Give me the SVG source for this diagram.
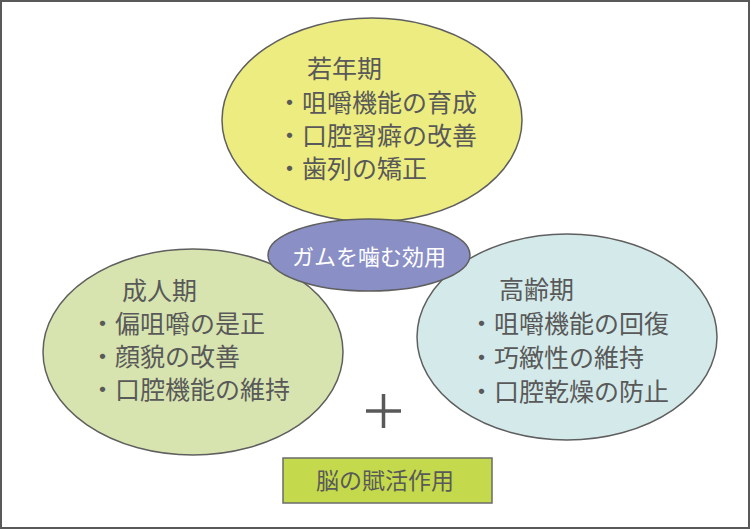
<svg xmlns="http://www.w3.org/2000/svg" width="750" height="529" viewBox="0 0 750 529">
<style>
.e{stroke:#5f5f5f;stroke-width:1.5}
.t{font-family:"Noto Sans CJK JP","Noto Sans",sans-serif;font-size:25px;fill:#595959}
.w{font-family:"Noto Sans CJK JP","Noto Sans",sans-serif;font-size:22px;fill:#ffffff}
</style>
<rect x="1" y="1" width="748" height="527" fill="#ffffff" stroke="#595959" stroke-width="2"/>
<g id="youth">
<ellipse class="e" cx="372" cy="120" rx="150" ry="102" fill="#ecec80"/>
<text class="t" x="307" y="78">若年期</text>
<text class="t" x="277" y="112">・咀嚼機能の育成</text>
<text class="t" x="277" y="145">・口腔習癖の改善</text>
<text class="t" x="277" y="178">・歯列の矯正</text>
</g>
<g id="adult">
<ellipse class="e" cx="193" cy="352" rx="150" ry="103" fill="#d7e4b0"/>
<text class="t" x="122" y="300">成人期</text>
<text class="t" x="90" y="333">・偏咀嚼の是正</text>
<text class="t" x="90" y="366">・顔貌の改善</text>
<text class="t" x="90" y="399">・口腔機能の維持</text>
</g>
<g id="elderly">
<ellipse class="e" cx="567" cy="337" rx="150" ry="103" fill="#d4eaea"/>
<text class="t" x="499" y="299">高齢期</text>
<text class="t" x="469" y="333">・咀嚼機能の回復</text>
<text class="t" x="469" y="367">・巧緻性の維持</text>
<text class="t" x="469" y="401">・口腔乾燥の防止</text>
</g>
<g id="center">
<ellipse class="e" cx="369" cy="255" rx="101" ry="36" fill="#8a8fc6"/>
<text class="w" x="369" y="265" text-anchor="middle">ガムを噛む効用</text>
</g>
<g id="connectors">
<path d="M366 411H401M383.5 394V428" stroke="#595959" stroke-width="3.5" fill="none"/>
</g>
<g id="brain">
<rect x="283" y="458" width="209" height="45" fill="#c5d94c" stroke="#6b6b6b" stroke-width="1.5"/>
<text class="t" x="385" y="489" text-anchor="middle" style="font-size:23px">脳の賦活作用</text>
</g>
</svg>
